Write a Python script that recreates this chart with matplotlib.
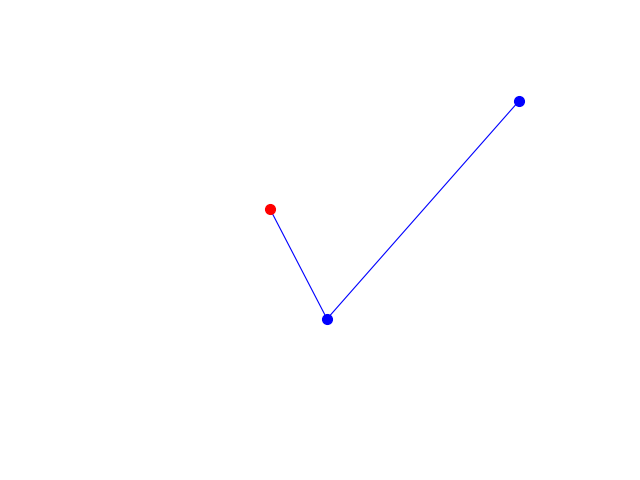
import matplotlib
matplotlib.use("Agg")
from matplotlib import pyplot as plt

# path points (first one is the start, drawn red)
xs = [-0.234, -0.004, 0.77]
ys = [0.181, -0.414, 0.765]

fig = plt.figure(figsize=(6.4, 4.8), dpi=100)
ax = fig.add_subplot(111)
ax.plot(xs, ys, color="blue", linewidth=0.8, zorder=1)
ax.plot(xs[1:], ys[1:], "o", color="blue", markersize=7, zorder=2)
ax.plot(xs[:1], ys[:1], "o", color="red", markersize=7, zorder=3)
ax.set_xlim(-1, 1)
ax.set_ylim(-1, 1)
ax.axis("off")

plt.savefig("out.png")
